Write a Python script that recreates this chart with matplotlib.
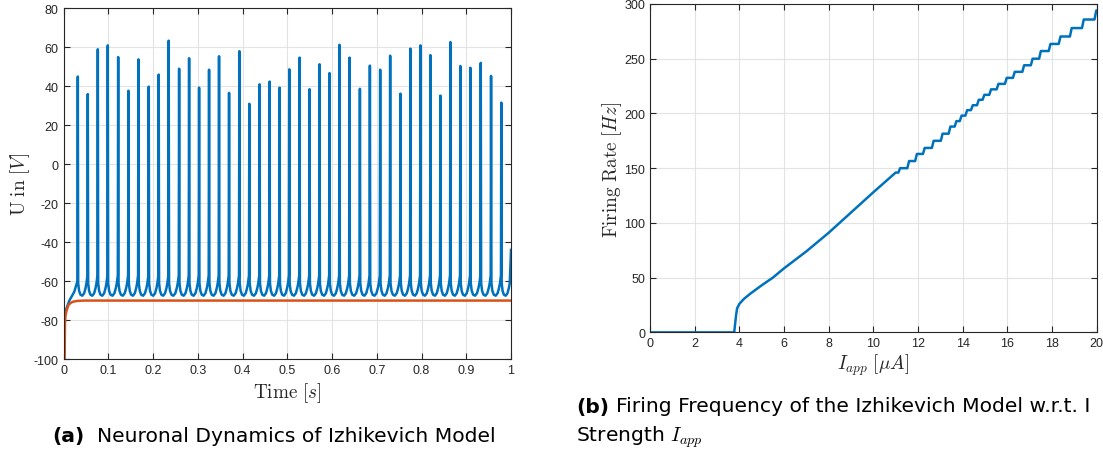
import matplotlib
matplotlib.use("Agg")
import matplotlib.pyplot as plt
import numpy as np

# ---- (a) membrane trace ----
spike_times = [0.0319, 0.0542, 0.0766, 0.0989, 0.1221, 0.1451, 0.1674, 0.1904, 0.2127, 0.2350,
               0.2583, 0.2806, 0.3029, 0.3252, 0.3475, 0.3699, 0.3929, 0.4152, 0.4382, 0.4605,
               0.4828, 0.5045, 0.5275, 0.5498, 0.5721, 0.5944, 0.6167, 0.6391, 0.6623, 0.6846,
               0.7076, 0.7299, 0.7529, 0.7752, 0.7975, 0.8199, 0.8422, 0.8645, 0.8868, 0.9092,
               0.9324, 0.9554, 0.9783]
spike_peaks = [45, 36, 59, 61, 55, 37.7, 53.8, 39.8, 46, 63.4,
               49, 54.4, 39.3, 48.5, 55.4, 36.6, 58, 31, 41, 42.4,
               39.3, 48.7, 54.7, 38.5, 51.3, 46.8, 61.3, 54.7, 38.7, 50.6,
               48.5, 55.7, 36.2, 59.3, 61, 56, 35.2, 62.7, 50.4, 49.5,
               52, 45.3, 31.6]
# start of the trace before the first spike
init_t = [0.0, 0.005, 0.013, 0.024, 0.0311]
init_v = [-80, -75, -70, -65.5, -60]
# one inter-spike interval (phase 0..1) of the blue trace
isi_phase = [0.0, 0.1, 0.25, 0.45, 0.65, 0.8, 0.9, 1.0]
isi_v = [-61, -65, -67, -67.5, -66.2, -63.5, -61, -57]
end_t, end_v = 1.0, -44

# orange trace
orange_t = [0.0025, 0.0032, 0.0045, 0.007, 0.011, 0.016, 0.021, 0.03, 0.045, 1.0]
orange_v = [-100, -82, -77.5, -75, -72.3, -71.2, -70.6, -70.2, -70, -70]

# ---- (b) firing rate vs applied current ----
iapp_smooth = [0, 3.77, 3.85, 3.9, 4.0, 4.2, 4.5, 5.0, 5.5, 6.0, 7.0, 8.0, 9.0, 10.0, 11.0]
rate_smooth = [0, 0, 15, 22, 26, 30.5, 35.5, 43, 50, 58.5, 74, 91, 109.5, 128, 146]
# staircase part: current where the rate jumps, and the new level
step_iapp = [11.2, 11.6, 11.95, 12.3, 12.7, 13.1, 13.45, 13.72, 13.95, 14.2, 14.45, 14.72,
             14.97, 15.27, 15.6, 15.97, 16.33, 16.75, 17.13, 17.5, 17.93, 18.38, 18.88,
             19.42, 19.98]
step_rate = [150, 156.5, 163, 168.5, 175, 181.5, 188, 193, 198, 203, 207.5, 212.5,
             217, 222, 227, 232.5, 238, 244, 250, 257, 263.5, 270.3, 278,
             285.8, 294]
iapp_end = 20.0

blue = '#0072BD'
orange = '#D95319'
axcol = '#262626'
gridcol = '#e3e3e3'

plt.rcParams['mathtext.fontset'] = 'cm'
plt.rcParams['axes.unicode_minus'] = False
plt.rcParams['font.family'] = ['Liberation Sans', 'DejaVu Sans']


def build_trace():
    t, v = list(init_t), list(init_v)
    for i, (ts, pk) in enumerate(zip(spike_times, spike_peaks)):
        t += [ts, ts + 0.0008]
        v += [pk, isi_v[0]]
        nxt = spike_times[i + 1] if i + 1 < len(spike_times) else end_t
        span = nxt - ts - 0.0016
        for ph, vv in zip(isi_phase[1:], isi_v[1:]):
            t.append(ts + 0.0008 + ph * span)
            v.append(vv)
    t[-1] = end_t
    v[-1] = end_v
    return t, v


def build_rate():
    x, y = list(iapp_smooth), list(rate_smooth)
    level = rate_smooth[-1]
    for xi, yi in zip(step_iapp, step_rate):
        x += [xi - 0.08, xi]
        y += [level, yi]
        level = yi
    x.append(iapp_end)
    y.append(level)
    return x, y


def style(ax):
    ax.grid(True, color=gridcol, linewidth=0.8)
    ax.set_axisbelow(True)
    for s in ax.spines.values():
        s.set_color(axcol)
        s.set_linewidth(0.8)
    ax.tick_params(direction='in', length=4, width=0.8, colors=axcol, labelsize=9,
                   top=True, right=True, labelcolor=axcol)


fig = plt.figure(figsize=(11.03, 4.56), dpi=100)

ax1 = fig.add_axes([0.0576, 0.2105, 0.4057, 0.769])
tt, vv = build_trace()
ax1.plot(tt, vv, color=blue, lw=1.8)
ax1.plot(orange_t, orange_v, color=orange, lw=1.8)
ax1.set_xlim(0, 1)
ax1.set_ylim(-100, 80)
ax1.set_xticks(np.arange(0, 1.01, 0.1))
ax1.set_xticklabels(['0', '0.1', '0.2', '0.3', '0.4', '0.5', '0.6', '0.7', '0.8', '0.9', '1'])
ax1.set_yticks(np.arange(-100, 81, 20))
style(ax1)
ax1.set_xlabel(r'$\mathrm{Time}\ [s]$', fontsize=13.8, color=axcol, labelpad=3)
ax1.set_ylabel(r'$\mathrm{U\ in}\ [V]$', fontsize=13.8, color=axcol, labelpad=1)

ax2 = fig.add_axes([0.5893, 0.2689, 0.405, 0.7202])
ix, ry = build_rate()
ax2.plot(ix, ry, color=blue, lw=1.8)
ax2.set_xlim(0, 20)
ax2.set_ylim(0, 300)
ax2.set_xticks(np.arange(0, 21, 2))
ax2.set_yticks(np.arange(0, 301, 50))
style(ax2)
ax2.set_xlabel(r'$I_{app}\ [\mu A]$', fontsize=13.8, color=axcol, labelpad=2)
ax2.set_ylabel(r'$\mathrm{Firing\ Rate}\ [Hz]$', fontsize=13.8, color=axcol, labelpad=0)

cap = dict(fontsize=14.6, family='DejaVu Sans', color='black', va='center', ha='left')
fig.text(52 / 1103, 1 - 437 / 456, '(a)', fontweight='bold', **cap)
fig.text(97 / 1103, 1 - 437 / 456, 'Neuronal Dynamics of Izhikevich Model', **cap)
fig.text(576 / 1103, 1 - 407 / 456, '(b)', fontweight='bold', **cap)
fig.text(616 / 1103, 1 - 407 / 456, 'Firing Frequency of the Izhikevich Model w.r.t. I', **cap)
fig.text(576 / 1103, 1 - 437 / 456, r'Strength $I_{app}$', **cap)

fig.savefig('out.png', dpi=100)
